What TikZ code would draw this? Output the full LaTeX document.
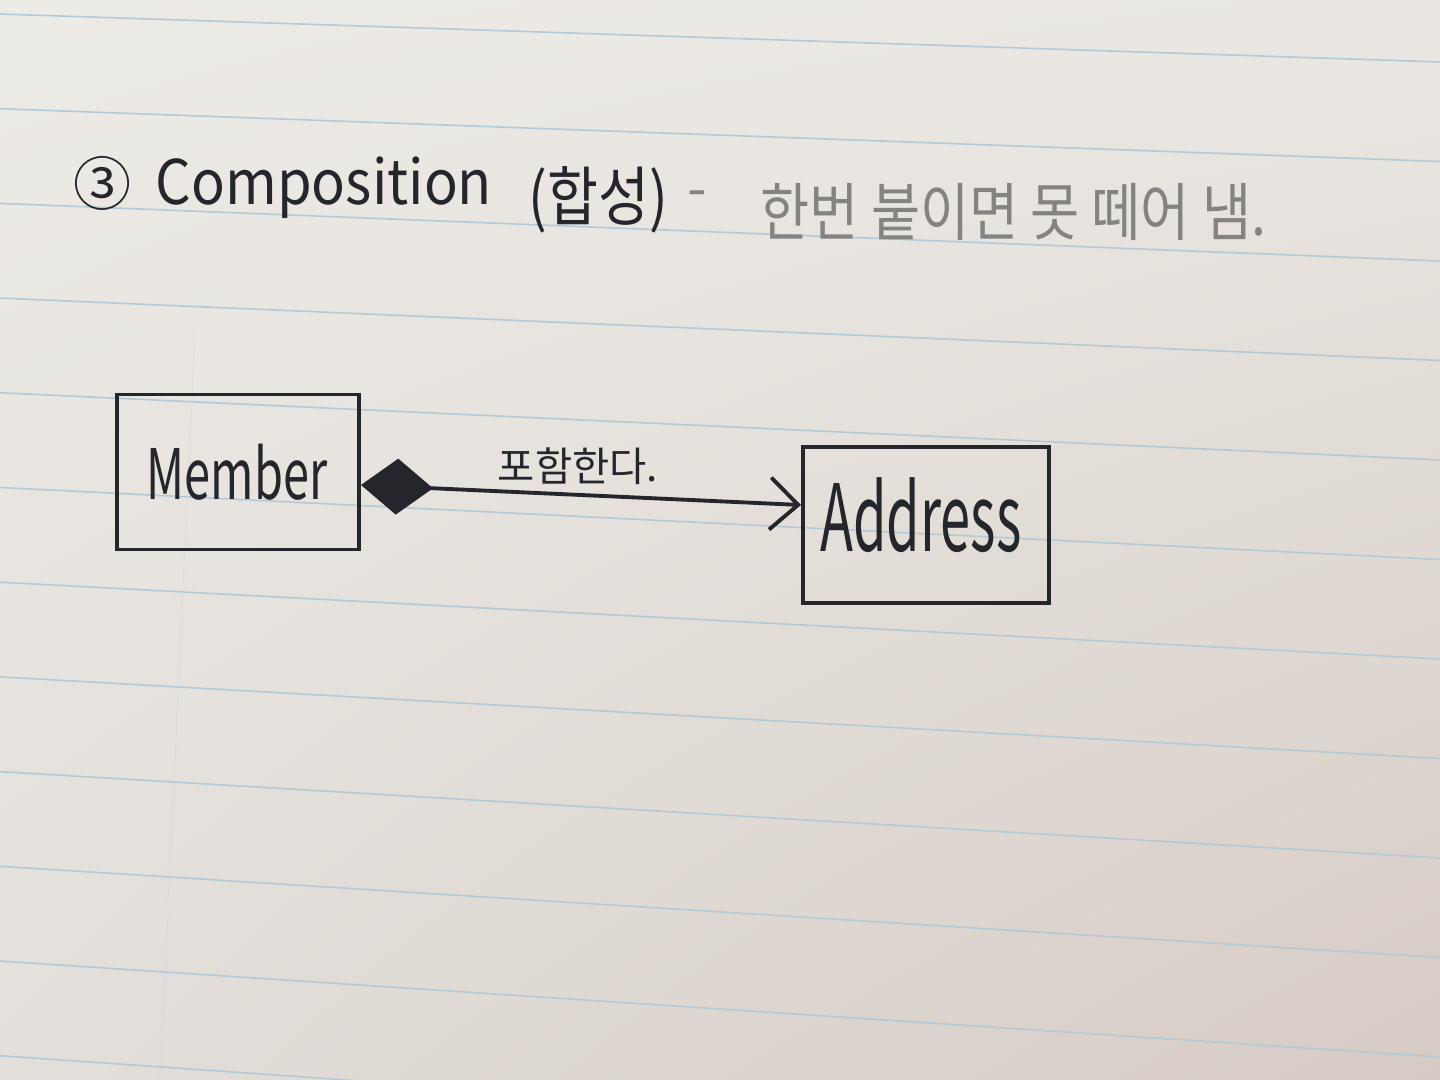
\documentclass[tikz,border=0pt]{standalone}
\usepackage{fontspec}
\setmainfont{Noto Sans CJK KR}
\usetikzlibrary{arrows.meta,calc,shadings}
\definecolor{inkc}{HTML}{25252C}
\definecolor{pencil}{HTML}{858380}
\definecolor{rulec}{HTML}{B2CAD6}
\definecolor{paperA}{HTML}{EDEBE6}
\definecolor{paperB}{HTML}{EAE7E2}
\definecolor{paperC}{HTML}{E3DFDA}
\definecolor{paperD}{HTML}{D6CBC4}
\begin{document}
\begin{tikzpicture}[x=0.01cm,y=-0.01cm,
  classbox/.style={draw=inkc, line width=1.1pt, inner sep=0pt},
  penline/.style={draw=inkc, line width=1.1pt},
  titletext/.style={text=inkc, inner sep=0pt, font=\fontsize{17.5}{20}\selectfont},
  graytext/.style={text=pencil, inner sep=0pt, font=\fontsize{16}{19}\selectfont},
  lbltext/.style={text=inkc, inner sep=0pt, font=\fontsize{11.5}{14}\selectfont},
  classtext/.style={text=inkc, inner sep=0pt}]
% paper
\shade[upper left=paperA, upper right=paperB, lower left=paperC, lower right=paperD]
  (0,0) rectangle (1440,1080);
\useasboundingbox (0,0) rectangle (1440,1080);
% ruled lines
\foreach \k in {0,...,11}{
  \draw[rulec, line width=0.45pt] (0,{14+94.7*\k}) -- (1440,{62+99.5*\k});
}
\draw[rulec!50!paperC, line width=0.4pt, opacity=0.3] (195,330) -- (160,1080);
% title
\node[titletext, font=\fontsize{16.5}{18}\selectfont] (num) at (103,183) {③};
\node[titletext, anchor=base west] (comp) at (155,205) {\scalebox{0.91}[1]{Composition}};
\node[titletext, anchor=west] (kr) at (528,200) {\scalebox{0.9}[1.05]{(합성)}};
\node[graytext] (dash) at (697,200) {-};
\node[graytext, anchor=west] (note) at (760,212) {\scalebox{0.95}[1.12]{한번 붙이면 못 떼어 냄.}};
% classes
\node[classbox, minimum width=2.42cm, minimum height=1.55cm] (member) at (238,472) {};
\node[classtext, font=\fontsize{18}{20}\selectfont] (membert) at (237,472) {\scalebox{0.74}[1.1]{Member}};
\node[classbox, minimum width=2.46cm, minimum height=1.56cm] (address) at (926,525) {};
\node[classtext, font=\fontsize{22}{24}\selectfont] (addresst) at (921,515) {\scalebox{0.7}[1.2]{Address}};
% composition connector
\draw[penline, {Diamond[length=0.72cm,width=0.56cm,fill=inkc]}-{Straight Barb[length=0.28cm,width=0.52cm]}]
  ($(member.east)+(0,13)$) -- ($(address.west)+(0,-20)$);
\node[lbltext] (rel) at (578,466) {포함한다.};
\end{tikzpicture}
\end{document}
